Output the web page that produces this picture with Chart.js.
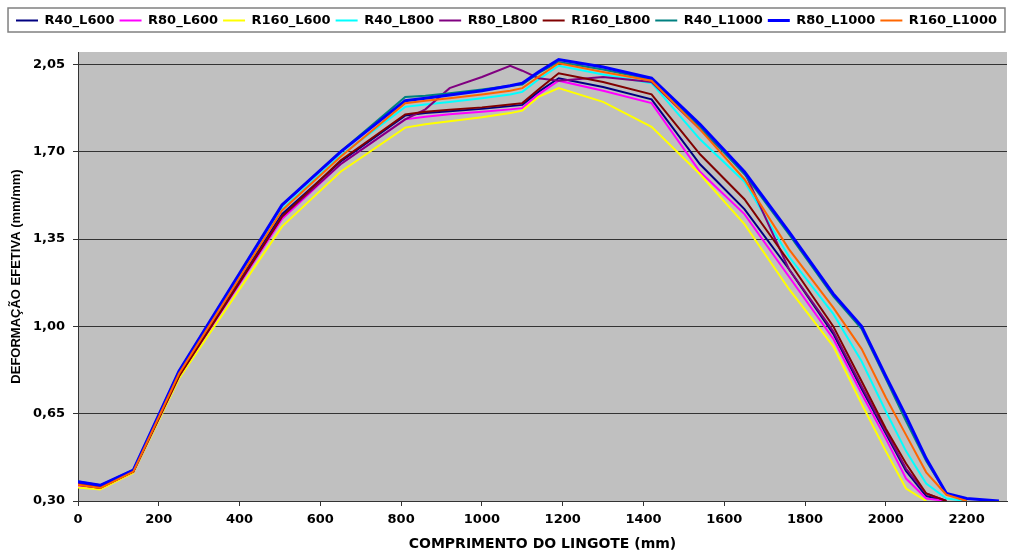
<!DOCTYPE html>
<html>
<head>
<meta charset="utf-8">
<script src="https://cdn.jsdelivr.net/npm/chart.js@4.4.1/dist/chart.umd.min.js"></script>
<style>
  html, body { margin: 0; padding: 0; background: #fff; }
</style>
</head>
<body>
<canvas id="lineChart" width="1017" height="551"></canvas>
<script>
// ---------- data ----------
const lengthMm = [0, 55, 137, 250, 505, 650, 810, 860, 920, 1000, 1070, 1100, 1140, 1190,
  1300, 1420, 1540, 1650, 1760, 1870, 1940, 2000, 2050, 2100, 2150, 2200, 2280];

const r40L600 = [0.375, 0.36, 0.42, 0.81, 1.45, 1.66, 1.845, 1.855, 1.862, 1.872, 1.883, 1.888, 1.94, 1.995,
  1.96, 1.91, 1.65, 1.47, 1.23, 0.97, 0.75, 0.57, 0.42, 0.32, 0.30, null, null];
const r80L600 = [0.36, 0.35, 0.415, 0.80, 1.43, 1.65, 1.83, 1.84, 1.85, 1.86, 1.87, 1.875, 1.93, 1.985,
  1.945, 1.895, 1.62, 1.45, 1.20, 0.95, 0.73, 0.55, 0.39, 0.31, 0.30, null, null];
const r160L600 = [0.354, 0.346, 0.413, 0.79, 1.40, 1.62, 1.797, 1.81, 1.822, 1.838, 1.855, 1.865, 1.92, 1.955,
  1.90, 1.80, 1.61, 1.41, 1.15, 0.92, 0.69, 0.50, 0.35, 0.30, null, null, null];
const r40L800 = [0.37, 0.355, 0.42, 0.81, 1.47, 1.685, 1.88, 1.89, 1.90, 1.915, 1.93, 1.94, 1.99, 2.045,
  2.01, 1.975, 1.75, 1.58, 1.28, 1.05, 0.86, 0.66, 0.50, 0.37, 0.31, 0.30, null];
const r80L800 = [0.37, 0.355, 0.418, 0.80, 1.44, 1.65, 1.83, 1.87, 1.955, 2.0, 2.045, 2.025, 1.995, 1.985,
  2.0, 1.98, 1.79, 1.62, 1.23, 0.98, 0.76, 0.58, 0.43, 0.33, 0.30, null, null];
const r160L800 = [0.365, 0.352, 0.418, 0.80, 1.44, 1.665, 1.85, 1.86, 1.868, 1.878, 1.89, 1.895, 1.95, 2.015,
  1.98, 1.93, 1.69, 1.51, 1.26, 1.00, 0.78, 0.59, 0.45, 0.33, 0.30, null, null];
const r40L1000 = [0.378, 0.363, 0.425, 0.82, 1.485, 1.70, 1.92, 1.925, 1.935, 1.95, 1.965, 1.97, 2.015, 2.06,
  2.03, 1.99, 1.80, 1.61, 1.37, 1.12, 0.99, 0.79, 0.62, 0.46, 0.33, 0.30, null];
const r80L1000 = [0.377, 0.363, 0.424, 0.82, 1.487, 1.70, 1.905, 1.915, 1.928, 1.945, 1.965, 1.975, 2.02, 2.07,
  2.04, 1.995, 1.81, 1.62, 1.38, 1.13, 1.00, 0.80, 0.64, 0.47, 0.33, 0.31, 0.30];
const r160L1000 = [0.365, 0.352, 0.418, 0.81, 1.465, 1.68, 1.895, 1.905, 1.915, 1.93, 1.945, 1.955, 2.0, 2.055,
  2.02, 1.985, 1.79, 1.59, 1.31, 1.075, 0.91, 0.715, 0.565, 0.415, 0.325, 0.30, null];

const seriesNames = ["R40_L600", "R80_L600", "R160_L600", "R40_L800", "R80_L800",
  "R160_L800", "R40_L1000", "R80_L1000", "R160_L1000"];
const seriesValues = [r40L600, r80L600, r160L600, r40L800, r80L800,
  r160L800, r40L1000, r80L1000, r160L1000];
const seriesColors = ["#000080", "#FF00FF", "#FFFF00", "#00FFFF", "#800080",
  "#800000", "#008080", "#0000FF", "#FF6600"];

const xTicks = [0, 200, 400, 600, 800, 1000, 1200, 1400, 1600, 1800, 2000, 2200];
const xTickLabels = ["0", "200", "400", "600", "800", "1000", "1200", "1400", "1600", "1800", "2000", "2200"];
const yTicks = [0.30, 0.65, 1.00, 1.35, 1.70, 2.05];
const yTickLabels = ["0,30", "0,65", "1,00", "1,35", "1,70", "2,05"];

// ---------- chart ----------
Chart.defaults.animation = false;
Chart.defaults.font.family = "'DejaVu Sans', sans-serif";
Chart.defaults.font.weight = "bold";
Chart.defaults.color = "#000";

const datasets = seriesNames.map((name, i) => ({
  label: name,
  data: lengthMm.map((x, j) => ({ x: x, y: seriesValues[i][j] })),
  borderColor: seriesColors[i],
  backgroundColor: seriesColors[i],
  borderWidth: i === 7 ? 3 : 2,
  pointRadius: 0,
  tension: 0,
  fill: false,
  order: seriesNames.length - i   // later series on top, like the original
}));

// plot area background + page background
const plotBackground = {
  id: "plotBackground",
  beforeDraw(chart) {
    const { ctx, chartArea } = chart;
    ctx.save();
    ctx.fillStyle = "#fff";
    ctx.fillRect(0, 0, chart.width, chart.height);
    ctx.fillStyle = "#C0C0C0";
    ctx.fillRect(chartArea.left, chartArea.top, chartArea.right - chartArea.left, chartArea.bottom - chartArea.top);
    ctx.restore();
  }
};

// extra space under the legend
const legendMargin = {
  id: "legendMargin",
  beforeInit(chart) {
    const fit = chart.legend.fit;
    chart.legend.fit = function () {
      fit.bind(chart.legend)();
      this.height += 15;
    };
  }
};

// frame around the legend
const legendBox = {
  id: "legendBox",
  afterDraw(chart) {
    const boxes = chart.legend.legendHitBoxes;
    if (!boxes || !boxes.length) return;
    const left = Math.min(...boxes.map(b => b.left)) - 8;
    const right = Math.max(...boxes.map(b => b.left + b.width)) + 8;
    const top = boxes[0].top - 6;
    const bottom = boxes[0].top + boxes[0].height + 5;
    const ctx = chart.ctx;
    ctx.save();
    ctx.strokeStyle = "#808080";
    ctx.lineWidth = 1.5;
    ctx.strokeRect(left, top, right - left, bottom - top);
    ctx.restore();
  }
};

new Chart(document.getElementById("lineChart"), {
  type: "line",
  data: { datasets: datasets },
  options: {
    responsive: false,
    animation: false,
    layout: { padding: { left: 6, right: 10, top: 9, bottom: 0 } },
    plugins: {
      tooltip: { enabled: false },
      legend: {
        position: "top",
        labels: {
          usePointStyle: true,
          pointStyle: "line",
          pointStyleWidth: 22,
          padding: 5,
          font: { size: 13 },
          color: "#000",
          sort: (a, b) => a.datasetIndex - b.datasetIndex
        }
      }
    },
    scales: {
      x: {
        type: "linear",
        min: 0,
        max: 2300,
        afterBuildTicks: s => { s.ticks = xTicks.map(v => ({ value: v })); },
        afterFit: s => { s.height = 50; },
        grid: { drawOnChartArea: false, drawTicks: true, tickLength: 5, tickColor: "#333" },
        border: { color: "#333", width: 1 },
        ticks: {
          font: { size: 13 },
          padding: 6,
          maxRotation: 0,
          autoSkip: false,
          callback: (v, i) => xTickLabels[i]
        },
        title: {
          display: true,
          text: "COMPRIMENTO DO LINGOTE (mm)",
          font: { size: 14, lineHeight: 1 },
          padding: { top: 0, bottom: 0 }
        }
      },
      y: {
        min: 0.3,
        max: 2.1,
        afterBuildTicks: s => { s.ticks = yTicks.map(v => ({ value: v })); },
        afterFit: s => { s.width = 72; },
        grid: { color: "#333", tickColor: "#333", tickLength: 5 },
        border: { color: "#333", width: 1 },
        ticks: {
          font: { size: 13 },
          padding: 8,
          autoSkip: false,
          callback: (v, i) => yTickLabels[i]
        },
        title: {
          display: true,
          text: "DEFORMAÇÃO EFETIVA (mm/mm)",
          font: { family: "'Liberation Sans', Arial, sans-serif", size: 13 },
          padding: { top: 3, bottom: 0 }
        }
      }
    }
  },
  plugins: [plotBackground, legendMargin, legendBox]
});
</script>
</body>
</html>
